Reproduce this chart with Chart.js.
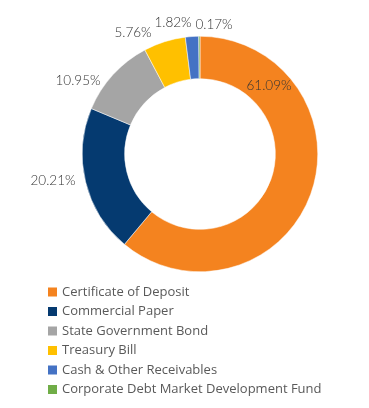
<!DOCTYPE html>
<html>
<head>
<meta charset="utf-8">
<script src="https://cdn.jsdelivr.net/npm/chart.js@4/dist/chart.umd.min.js"></script>
<style>
  html, body { margin: 0; padding: 0; background: #fff; }
  #wrap { position: relative; width: 369px; height: 408px; }
</style>
</head>
<body>
<div id="wrap"><canvas id="pie" width="369" height="408"></canvas></div>
<script>
const categories = [
  'Certificate of Deposit',
  'Commercial Paper',
  'State Government Bond',
  'Treasury Bill',
  'Cash & Other Receivables',
  'Corporate Debt Market Development Fund'
];
const shares = [61.09, 20.21, 10.95, 5.76, 1.82, 0.17];
const sliceColors = ['#F4831F', '#053A70', '#A5A5A5', '#FFC000', '#4472C4', '#70AD47'];

// where each percentage label sits, relative to the doughnut centre
const labelOffsets = [[69, -68], [-147, 27], [-122, -73], [-67, -121], [-27, -131], [14, -129]];

const valueLabels = {
  id: 'valueLabels',
  afterDatasetsDraw(chart) {
    const ctx = chart.ctx;
    const arc0 = chart.getDatasetMeta(0).data[0];
    ctx.save();
    ctx.font = '300 13.5px Lato';
    ctx.fillStyle = '#333333';
    ctx.textAlign = 'center';
    ctx.textBaseline = 'middle';
    shares.forEach((v, i) => {
      ctx.fillText(v.toFixed(2) + '%', arc0.x + labelOffsets[i][0], arc0.y + labelOffsets[i][1]);
    });
    ctx.restore();
  }
};

const sideLegend = {
  id: 'sideLegend',
  afterDraw(chart) {
    const ctx = chart.ctx;
    ctx.save();
    ctx.font = '13px "Open Sans"';
    ctx.textBaseline = 'middle';
    categories.forEach((c, i) => {
      const y = 292 + i * 19.5;
      ctx.fillStyle = sliceColors[i];
      ctx.fillRect(48, y - 4.5, 9, 9);
      ctx.fillStyle = '#595959';
      ctx.fillText(c, 62, y);
    });
    ctx.restore();
  }
};

new Chart(document.getElementById('pie'), {
  type: 'doughnut',
  data: {
    labels: categories,
    datasets: [{
      data: shares,
      backgroundColor: sliceColors,
      borderWidth: 0.5,
      borderColor: '#fff'
    }]
  },
  options: {
    responsive: false,
    animation: false,
    cutout: '64%',
    layout: { padding: { left: 82, right: 51, top: 36, bottom: 136 } },
    plugins: {
      legend: { display: false },
      tooltip: { enabled: false }
    }
  },
  plugins: [valueLabels, sideLegend]
});
</script>
</body>
</html>
